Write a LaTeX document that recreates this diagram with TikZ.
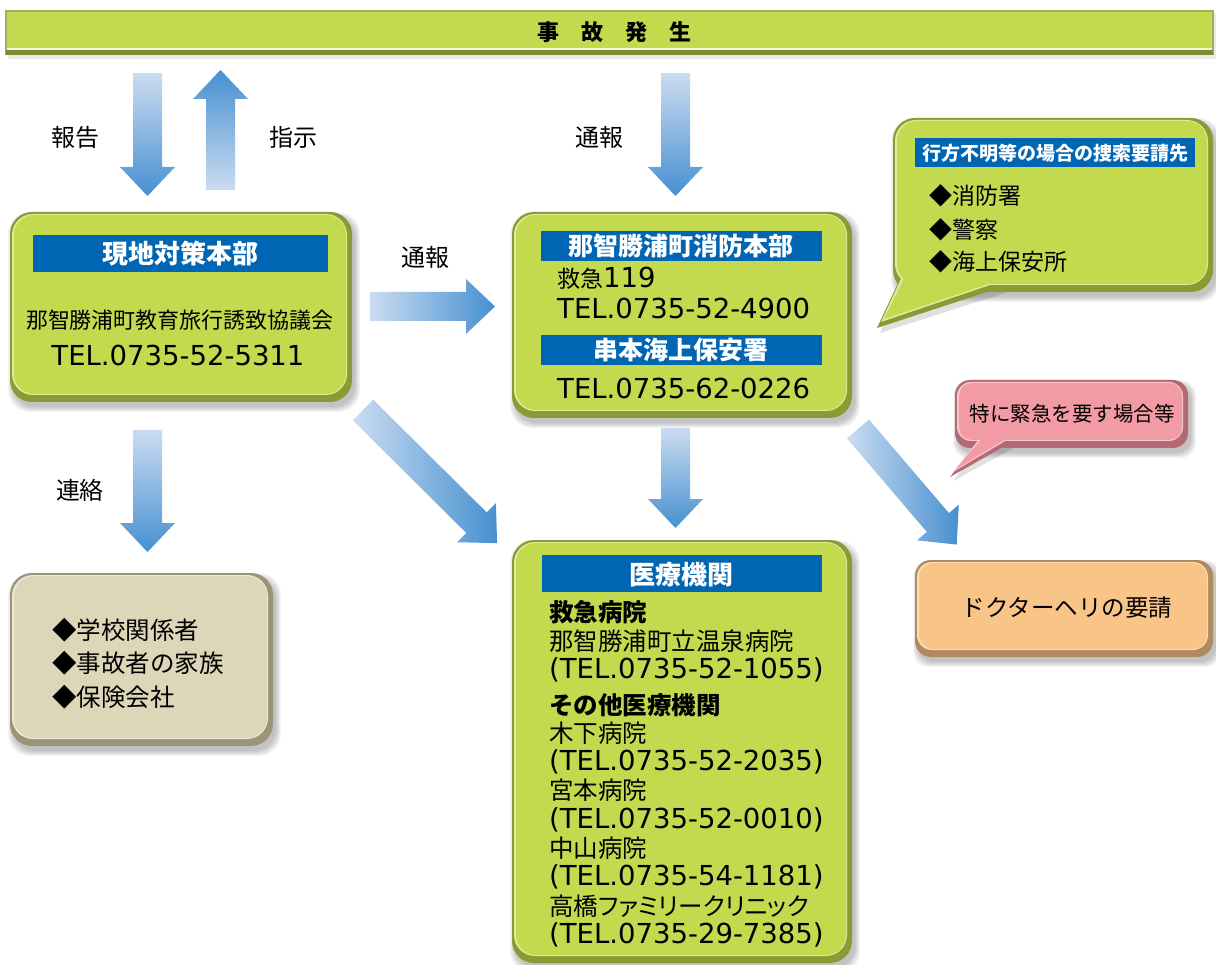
\documentclass[tikz,border=0pt]{standalone}
\usepackage{fontspec}
\newfontfamily\jp{Noto Sans CJK JP}
\newfontfamily\lat{DejaVu Sans}
\newcommand\fsz[1]{\fontsize{#1}{#1}\selectfont}
\definecolor{gface}{HTML}{C3D94E}
\definecolor{gedge}{HTML}{8A9A34}
\definecolor{hblue}{HTML}{0066B3}
\definecolor{bface}{HTML}{DED6B8}
\definecolor{bedge}{HTML}{9A947A}
\definecolor{oface}{HTML}{F8C487}
\definecolor{oedge}{HTML}{B08A5C}
\definecolor{pface}{HTML}{F29BA5}
\definecolor{pedge}{HTML}{B46A74}
\definecolor{alight}{HTML}{CBDCF1}
\definecolor{adark}{HTML}{4690D0}
\tikzset{
  jt/.style={inner sep=0pt, font={\jp\fsz{#1}}},
  jb/.style={inner sep=0pt, font={\jp\bfseries\fsz{#1}}},
  hd/.style={inner sep=0pt, font={\jp\bfseries\fsz{#1}}, text=white},
  lt/.style={inner sep=0pt, font={\lat\fsz{#1}}},
  adown/.style={top color=alight, bottom color=adark},
  aup/.style={top color=adark, bottom color=alight},
  aright/.style={left color=alight, right color=adark},
}
\newcommand\softshadow[5]{%
  \foreach \s in {0,1,2,3,4,5}{%
    \fill[black,opacity=0.045,rounded corners=#5pt] ({#1+3-\s},{#2+5-\s}) rectangle ({#3+3+\s},{#4+5+\s});}}
\newcommand\bevbox[7]{%
  \softshadow{#1}{#2}{#3}{#4}{#5}
  \fill[#7,rounded corners=#5pt] (#1,#2) rectangle (#3,#4);
  \fill[#6!55!white,rounded corners=#5pt-1pt] ({#1+2},{#2+2}) rectangle ({#3-5},{#4-7});
  \fill[#6,rounded corners=#5pt-2pt] ({#1+4},{#2+3}) rectangle ({#3-6},{#4-8});}
\newcommand\blockarrow[5]{%
  \begin{scope}[shift={(#2)},rotate=#3]
    \shade[#5] (0,-14.5) -- ({#4-29},-14.5) -- ({#4-29},-27.5) -- (#4,0) -- ({#4-29},27.5) -- ({#4-29},14.5) -- (0,14.5) -- cycle;
    \coordinate (#1) at (#4,0);
  \end{scope}}
\begin{document}
\begin{tikzpicture}[x=1pt,y=-1pt]
\useasboundingbox (0,0) rectangle (1216,965);
% banner
\fill[black,opacity=0.08] (8,13) rectangle (1216,59);
\fill[gedge!80!white] (5,10) rectangle (1214,55);
\fill[gface] (7,12) rectangle (1212,48);
\fill[white!80!gface] (7,48) rectangle (1212,50);
\fill[gedge!90!black] (6,50) rectangle (1213,55);
\node[jb=22] (title) at (614,32) {事　故　発　生};

% arrows
\blockarrow{a1}{147.5,73}{-90}{123}{adown}
\blockarrow{a2}{220.5,190}{90}{120}{aup}
\blockarrow{a3}{675.5,73}{-90}{123}{adown}
\blockarrow{a4}{370,306.5}{0}{125}{aright}
\blockarrow{a5}{147.5,430}{-90}{122}{adown}
\blockarrow{a6}{675.5,428}{-90}{100}{adown}
\blockarrow{a7}{363,410}{-44.8}{189}{aright}
\blockarrow{a8}{858,429}{-49.5}{152}{aright}

\node[jt=24] (l1) at (75,137) {報告};
\node[jt=24] (l2) at (293,137) {指示};
\node[jt=24] (l3) at (599,137) {通報};
\node[jt=24] (l4) at (425,257) {通報};
\node[jt=24] (l5) at (80,490) {連絡};

% box 1
\bevbox{10}{212}{352}{402}{22}{gface}{gedge}
\fill[hblue] (33,235) rectangle (328,272);
\node[hd=26] (h1) at (180.5,254) {現地対策本部};
\node[jt=22] (b1a) at (180,320) {那智勝浦町教育旅行誘致協議会};
\node[lt=27.5] (b1b) at (178,355) {TEL.0735-52-5311};

% box 2
\bevbox{512}{212}{852}{418}{22}{gface}{gedge}
\fill[hblue] (541,231) rectangle (822,261);
\node[hd=25] (h2) at (681,246) {那智勝浦町消防本部};
\node[jt=23,anchor=west] (b2a) at (557,278) {救急{\lat\fsz{27.5}119}};
\node[lt=27.5,anchor=west] (b2b) at (557,308) {TEL.0735-52-4900};
\fill[hblue] (541,335) rectangle (822,365);
\node[hd=25] (h3) at (681,350) {串本海上保安署};
\node[lt=27.5,anchor=west] (b2c) at (557,388) {TEL.0735-62-0226};

% green callout
\softshadow{893}{118}{1213}{292}{22}
\fill[black,opacity=0.12] (906,276) -- (1058,276) -- (880,333) -- cycle;
\fill[gedge,rounded corners=22pt] (893,118) rectangle (1213,292);
\fill[gedge] (904,270) -- (1054,270) -- (877,328) -- cycle;
\fill[gface!55!white,rounded corners=21pt] (895,120) rectangle (1208,285);
\fill[gface!55!white] (906,268) -- (1040,268) -- (881,322) -- cycle;
\fill[gface,rounded corners=20pt] (897,121) rectangle (1207,284);
\fill[gface] (909,268) -- (1036,268) -- (884,319) -- cycle;
\fill[hblue] (915,138) rectangle (1195,167);
\node[hd=19] (h4) at (1055,153) {行方不明等の場合の捜索要請先};
\node[jt=23,anchor=west] (c1) at (929,196) {◆消防署};
\node[jt=23,anchor=west] (c2) at (929,230) {◆警察};
\node[jt=23,anchor=west] (c3) at (929,262) {◆海上保安所};

% pink callout
\softshadow{955}{380}{1188}{448}{15}
\fill[black,opacity=0.12] (988,436) -- (1036,436) -- (953,481) -- cycle;
\fill[pedge,rounded corners=15pt] (955,380) rectangle (1188,448);
\fill[pedge] (986,430) -- (1033,430) -- (950,477) -- cycle;
\fill[pface!55!white,rounded corners=14pt] (957,382) rectangle (1183,441);
\fill[pface!55!white] (988,428) -- (1027,428) -- (953,472) -- cycle;
\fill[pface,rounded corners=13pt] (959,383) rectangle (1182,440);
\fill[pface] (991,428) -- (1024,428) -- (956,469) -- cycle;
\node[jt=20.5] (p1) at (1072,414) {特に緊急を要す場合等};

% doctor heli
\bevbox{915}{560}{1213}{657}{16}{oface}{oedge}
\node[jt=23.5] (dh) at (1067,608) {ドクターヘリの要請};

% gray box
\bevbox{10}{573}{273}{746}{22}{bface}{bedge}
\node[jt=24.5,anchor=west] (g1) at (52,630) {◆学校関係者};
\node[jt=24.5,anchor=west] (g2) at (52,663) {◆事故者の家族};
\node[jt=24.5,anchor=west] (g3) at (52,697) {◆保険会社};

% medical
\bevbox{512}{540}{852}{963}{22}{gface}{gedge}
\fill[hblue] (542,555) rectangle (822,592);
\node[hd=26] (h5) at (681,575) {医療機関};
\node[jb=24.5,anchor=west] (m1) at (549,612) {救急病院};
\node[jt=24.5,anchor=west] (m2) at (549,641) {那智勝浦町立温泉病院};
\node[lt=27.5,anchor=west] (m3) at (549,670) {(TEL.0735-52-1055)};
\node[jb=24.5,anchor=west] (m4) at (549,705) {その他医療機関};
\node[jt=24.5,anchor=west] (m5) at (549,733) {木下病院};
\node[lt=27.5,anchor=west] (m6) at (549,762) {(TEL.0735-52-2035)};
\node[jt=24.5,anchor=west] (m7) at (549,790) {宮本病院};
\node[lt=27.5,anchor=west] (m8) at (549,820) {(TEL.0735-52-0010)};
\node[jt=24.5,anchor=west] (m9) at (549,848) {中山病院};
\node[lt=27.5,anchor=west] (m10) at (549,877) {(TEL.0735-54-1181)};
\node[jt=24.5,anchor=west] (m11) at (549,906) {\addfontfeature{RawFeature=+palt}高橋ファミリークリニック};
\node[lt=27.5,anchor=west] (m12) at (549,935) {(TEL.0735-29-7385)};
\end{tikzpicture}
\end{document}
